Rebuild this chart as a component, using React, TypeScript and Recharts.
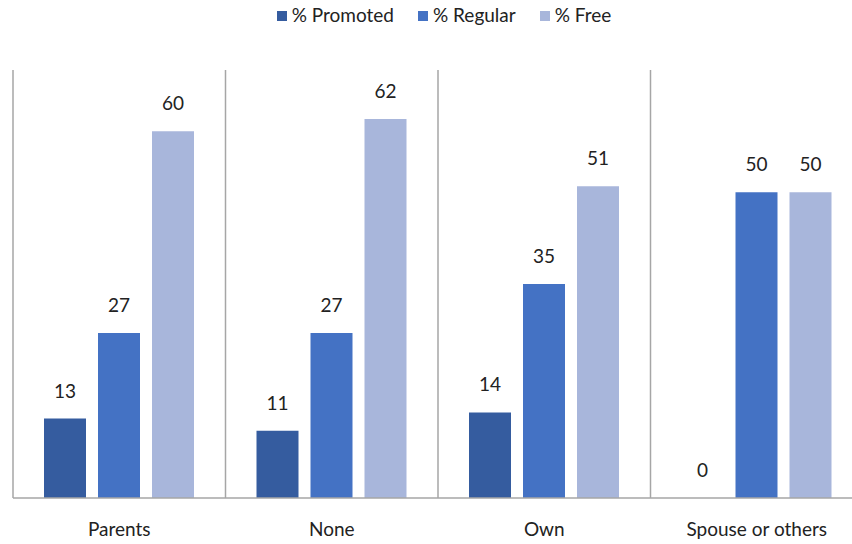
import { BarChart, Bar, XAxis, YAxis, CartesianGrid, LabelList } from 'recharts'

const categories = ['Parents', 'None', 'Own', 'Spouse or others']
const promoted = [13, 11, 14, 0]
const regular = [27, 27, 35, 50]
const free = [60, 62, 51, 50]

const seriesNames = ['% Promoted', '% Regular', '% Free']
const seriesKeys = ['promoted', 'regular', 'free']
const seriesColors = ['#355C9F', '#4472C4', '#A8B6DB']

const FONT = 'Lato, "Noto Sans", sans-serif'

export default function App() {
  const data = categories.map((name, i) => ({
    name,
    promoted: promoted[i],
    regular: regular[i],
    free: free[i],
  }))

  return (
    <div
      style={{
        position: 'fixed',
        left: 0,
        top: 0,
        width: 852,
        height: 544,
        overflow: 'hidden',
        background: '#fff',
        fontFamily: FONT,
      }}
    >
      {/* legend drawn as html so it doesn't eat into the plot area */}
      <div
        style={{
          position: 'absolute',
          top: 3,
          left: 0,
          width: 888,
          display: 'flex',
          justifyContent: 'center',
          gap: 24,
          fontSize: 19,
          color: '#222',
        }}
      >
        {seriesNames.map((s, i) => (
          <div key={s} style={{ display: 'flex', alignItems: 'center' }}>
            <span
              style={{ width: 10, height: 10, background: seriesColors[i], marginRight: 5, marginTop: 3 }}
            />
            <span>{s}</span>
          </div>
        ))}
      </div>

      <BarChart
        width={870}
        height={544}
        data={data}
        margin={{ top: 70, left: 13, right: 7, bottom: 16 }}
        barCategoryGap={31}
        barGap={12}
      >
        <CartesianGrid
          horizontal={false}
          stroke="#a6a6a6"
          strokeWidth={1.5}
          verticalCoordinatesGenerator={({ offset }: any) =>
            [0, 1, 2, 3, 4].map((i) => offset.left + (i * offset.width) / 4)
          }
        />
        <XAxis
          dataKey="name"
          height={30}
          axisLine={{ stroke: '#a6a6a6', strokeWidth: 1.5 }}
          tickLine={false}
          tickMargin={19}
          tick={{ fill: '#222', fontSize: 19, fontFamily: FONT }}
          interval={0}
        />
        <YAxis hide domain={[0, 70]} />
        {seriesKeys.map((k, i) => (
          <Bar
            key={k}
            dataKey={k}
            name={seriesNames[i]}
            fill={seriesColors[i]}
            minPointSize={0.01}
            isAnimationActive={false}
          >
            <LabelList
              dataKey={k}
              position="top"
              offset={21}
              fill="#222"
              fontSize={19}
              fontFamily={FONT}
            />
          </Bar>
        ))}
      </BarChart>
    </div>
  )
}
